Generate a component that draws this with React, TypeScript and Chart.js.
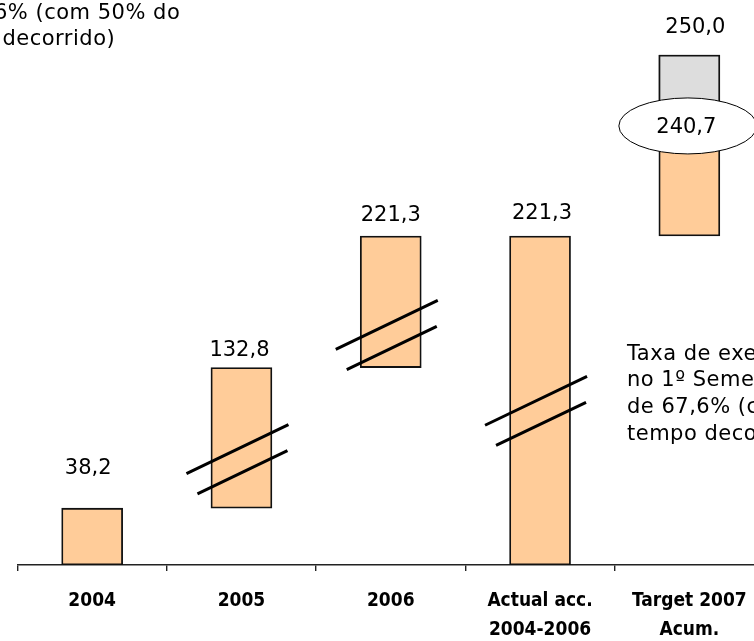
import React, { useEffect, useRef } from "react";
import { Chart, registerables } from "chart.js";

Chart.register(...registerables);

// ---- data ----
const categories: string[][] = [
  ["2004"],
  ["2005"],
  ["2006"],
  ["Actual acc.", "2004-2006"],
  ["Target 2007", "Acum."],
];
// floating bar extents as drawn on the (not-to-scale) slide axis
const barStart = [0, 38.2, 132.8, 0, 221.3];
const barEnd = [38.2, 132.8, 221.3, 221.3, 343.0];
// grey "still to achieve" part of the target bar
const pendingStart = [null, null, null, null, 295.3];
const pendingEnd = [null, null, null, null, 343.0];
// printed values
const valueLabels = [38.2, 132.8, 221.3, 221.3, 250.0];
const achievedValue = 240.7;
const achievedLevel = 295.3;
// level of the axis-break marks drawn across bars
const breakLevels = [null, 70.5, 154, 103, null];

// ---- styles ----
const labelDx = [-4, -2, 0, 2, 6];
const labelDy = [41, 18, 21, 23.5, 28];
const FONT = '"DejaVu Sans", sans-serif';

const fmt = (v: number) => v.toFixed(1).replace(".", ",");

const overlayPlugin = {
  id: "overlay",
  afterDatasetsDraw(chart: any) {
    const ctx = chart.ctx as CanvasRenderingContext2D;
    const meta = chart.getDatasetMeta(1);
    const y = chart.scales.y;
    ctx.save();
    // break marks
    ctx.strokeStyle = "#000";
    ctx.lineWidth = 3;
    const s = 0.48;
    meta.data.forEach((bar: any, i: number) => {
      const lv = breakLevels[i];
      if (lv == null) return;
      const cx = bar.x;
      const ym = y.getPixelForValue(lv);
      ctx.beginPath();
      ctx.moveTo(cx - 55, ym - 13 + 55 * s);
      ctx.lineTo(cx + 47, ym - 13 - 47 * s);
      ctx.moveTo(cx - 44, ym + 12.5 + 44 * s);
      ctx.lineTo(cx + 46, ym + 12.5 - 46 * s);
      ctx.stroke();
    });
    // ellipse with achieved value
    const tb = meta.data[4];
    const ey = y.getPixelForValue(achievedLevel);
    ctx.beginPath();
    ctx.ellipse(tb.x - 1.5, ey, 69, 28, 0, 0, Math.PI * 2);
    ctx.fillStyle = "#fff";
    ctx.fill();
    ctx.lineWidth = 1;
    ctx.strokeStyle = "#000";
    ctx.stroke();
    ctx.fillStyle = "#000";
    ctx.font = "21px " + FONT;
    ctx.textAlign = "center";
    ctx.textBaseline = "middle";
    ctx.fillText(fmt(achievedValue), tb.x - 3, ey + 2);
    // value labels
    meta.data.forEach((bar: any, i: number) => {
      const top = Math.min(bar.y, bar.base);
      ctx.fillText(fmt(valueLabels[i]), bar.x + labelDx[i], top - labelDy[i] + 1);
    });
    ctx.restore();
  },
};

export default function App() {
  const ref = useRef<HTMLCanvasElement>(null);
  useEffect(() => {
    if (!ref.current) return;
    const chart = new Chart(ref.current, {
      type: "bar",
      data: {
        labels: categories,
        datasets: [
          {
            label: "pending",
            data: pendingStart.map((s, i) => (s == null ? null : [s, pendingEnd[i] as number])) as any,
            backgroundColor: "#DDDDDD",
            borderColor: "#111",
            borderWidth: 1.8,
            borderSkipped: false,
            barThickness: 61,
            grouped: false,
          },
          {
            label: "values",
            data: barStart.map((s, i) => [s, barEnd[i]]) as any,
            backgroundColor: "#FFCC99",
            borderColor: "#111",
            borderWidth: 1.8,
            borderSkipped: false,
            barThickness: 61,
            grouped: false,
          },
        ],
      },
      options: {
        responsive: false,
        animation: false,
        events: [],
        layout: { padding: { left: 17.5, right: 36, top: 0, bottom: 0 } },
        plugins: { legend: { display: false }, tooltip: { enabled: false } },
        scales: {
          y: { display: false, min: 0, max: 380 },
          x: {
            afterFit: (scale: any) => {
              scale.height = 76;
            },
            border: { display: true, color: "#222", width: 1.6 },
            grid: {
              offset: true,
              drawOnChartArea: false,
              drawTicks: true,
              tickLength: 6,
              color: "#222",
              lineWidth: 1.4,
            },
            ticks: {
              color: "#000",
              padding: 16,
              maxRotation: 0,
              autoSkip: false,
              font: { family: '"DejaVu Sans Condensed", "DejaVu Sans", sans-serif', weight: "bold", size: 19, lineHeight: 1.5 },
            },
          },
        },
      },
      plugins: [overlayPlugin],
    });
    return () => chart.destroy();
  }, []);

  const textStyle: React.CSSProperties = {
    position: "absolute",
    fontFamily: FONT,
    fontSize: 21,
    lineHeight: "26.7px",
    letterSpacing: "0.5px",
    color: "#000",
    whiteSpace: "nowrap",
    margin: 0,
  };

  return (
    <div
      style={{
        position: "absolute",
        left: 0,
        top: 0,
        width: 754,
        height: 641,
        overflow: "hidden",
        background: "#fff",
      }}
    >
      <canvas ref={ref} width={800} height={641} style={{ position: "absolute", left: 0, top: 0, width: 800, height: 641 }} />
      <div style={{ ...textStyle, left: -6, top: -1.3 }}>6% (com 50% do</div>
      <div style={{ ...textStyle, left: -75, top: 25.4 }}>tempo decorrido)</div>
      <div style={{ ...textStyle, left: 627, top: 339.7 }}>
        Taxa de execução
        <br />
        no 1º Semestre
        <br />
        de 67,6% (com 50% do
        <br />
        tempo decorrido)
      </div>
    </div>
  );
}
